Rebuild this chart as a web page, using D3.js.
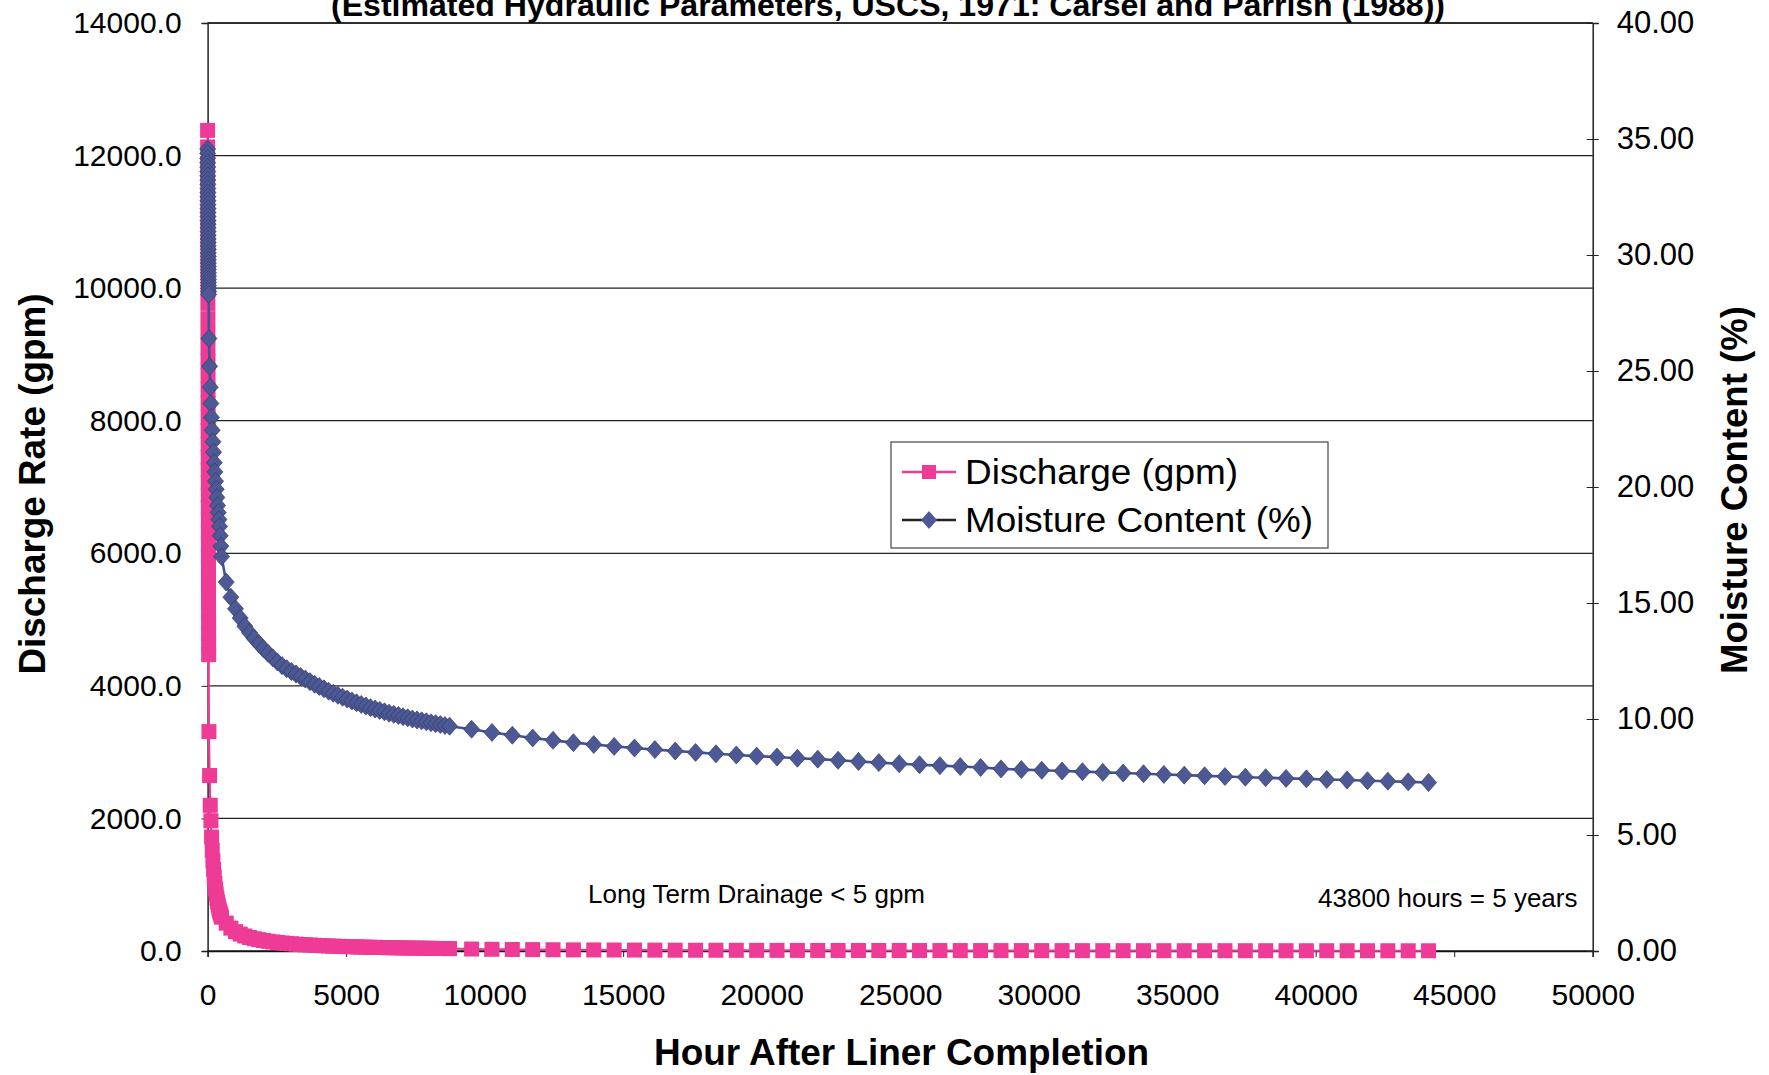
<!DOCTYPE html>
<html><head><meta charset="utf-8">
<script src="https://cdn.jsdelivr.net/npm/d3@7"></script>
<style>body{margin:0;background:#fff}svg{display:block}</style>
</head><body><svg id="c" width="1769" height="1075"></svg>
<script>
// ---------- data ----------
const hoursEarly = [0,1,2,3,4,5,6,7,8,9,10,11,12,13,14,15,16,17,18,19,20,21,22,23,24,25,26,27,28,29,30,31,32,33,34,35,36,37,38,39];
const dischargeEarly = [12380,12130,11880,11640,11390,11150,10920,10680,10450,10220,9990,9770,9540,9320,9100,8890,8680,8470,8260,8050,7850,7650,7450,7260,7060,6870,6690,6500,6320,6140,5960,5790,5610,5440,5270,5110,4950,4790,4630,4470];
const moistureEarly = [34.57,34.37,34.17,33.98,33.79,33.60,33.41,33.23,33.05,32.87,32.69,32.51,32.34,32.17,32.00,31.83,31.66,31.49,31.33,31.17,31.01,30.85,30.69,30.54,30.39,30.24,30.09,29.94,29.79,29.65,29.51,29.37,29.23,29.09,28.95,28.82,28.69,28.56,28.43,28.30];

const hoursDaily = [48,72,96,120,144,168,192,216,240,264,288,312,336,360,384,408,432,456,480,504];
const dischargeDaily = [3310,2647,2198,1965,1720,1520,1360,1230,1120,1020,935,860,795,740,690,645,605,570,540,510];
const moistureDaily = [26.4,25.2,24.3,23.6,23.0,22.45,21.95,21.5,21.05,20.65,20.25,19.9,19.55,19.2,18.9,18.6,18.3,17.9,17.45,17.0];

const hoursWeekly = [672,840,1008,1176,1344,1512,1680,1848,2016,2184,2352,2520,2688,2856,3024,3192,3360,3528,3696,3864,4032,4200,4368,4536,4704,4872,5040,5208,5376,5544,5712,5880,6048,6216,6384,6552,6720,6888,7056,7224,7392,7560,7728,7896,8064,8232,8400,8568,8736];
const dischargeWeekly = [420,345,292,255,226,204,186,171,158,147,137,129,121,115,109,103,98,94,90,86,82,79,76,73,70,68,66,64,62,60,58,56,55,53,52,50,49,48,46,45,44,43,42,41,40,39,38,37,36];
const moistureWeekly = [15.9,15.25,14.75,14.35,14.0,13.72,13.47,13.25,13.03,12.83,12.64,12.46,12.3,12.17,12.05,11.94,11.83,11.72,11.61,11.5,11.4,11.3,11.2,11.11,11.02,10.94,10.86,10.78,10.7,10.63,10.56,10.49,10.43,10.37,10.31,10.25,10.2,10.15,10.1,10.05,10.0,9.96,9.92,9.88,9.84,9.8,9.76,9.72,9.69];

const hoursMonthly = [9530,10265,11000,11735,12470,13205,13940,14675,15410,16145,16880,17615,18350,19085,19820,20555,21290,22025,22760,23495,24230,24965,25700,26435,27170,27905,28640,29375,30110,30845,31580,32315,33050,33785,34520,35255,35990,36725,37460,38195,38930,39665,40400,41135,41870,42605,43340,44075];
const dischargeMonthly = [30,26,23,21,19,17,16,15,14,13,12,11.5,11,10.5,10,9.5,9,8.6,8.2,7.9,7.6,7.3,7.0,6.8,6.6,6.4,6.2,6.0,5.8,5.6,5.5,5.3,5.2,5.0,4.9,4.8,4.7,4.6,4.5,4.4,4.3,4.2,4.1,4.0,3.9,3.8,3.7,3.6];
const moistureMonthly = [9.56,9.42,9.30,9.18,9.08,8.98,8.90,8.82,8.75,8.68,8.62,8.56,8.50,8.45,8.40,8.36,8.31,8.27,8.22,8.17,8.12,8.07,8.03,7.99,7.95,7.91,7.85,7.82,7.79,7.76,7.73,7.70,7.67,7.64,7.61,7.58,7.55,7.52,7.49,7.47,7.44,7.42,7.39,7.37,7.34,7.32,7.29,7.26];

const xTicks = [0,5000,10000,15000,20000,25000,30000,35000,40000,45000,50000];
const leftTicks = [0,2000,4000,6000,8000,10000,12000,14000];
const rightTicks = [0,5,10,15,20,25,30,35,40];

const titleText = "(Estimated Hydraulic Parameters, USCS, 1971: Carsel and Parrish (1988))";
const xTitle = "Hour After Liner Completion";
const yLeftTitle = "Discharge Rate (gpm)";
const yRightTitle = "Moisture Content (%)";
const seriesNames = ["Discharge (gpm)", "Moisture Content (%)"];
const notes = ["Long Term Drainage < 5 gpm", "43800 hours = 5 years"];

// ---------- build ----------
const hours = [].concat(hoursEarly, hoursDaily, hoursWeekly, hoursMonthly);
const discharge = [].concat(dischargeEarly, dischargeDaily, dischargeWeekly, dischargeMonthly);
const moisture = [].concat(moistureEarly, moistureDaily, moistureWeekly, moistureMonthly);
const dData = hours.map((h,i)=>({h, v:discharge[i]}));
const mData = hours.map((h,i)=>({h, v:moisture[i]}));

const FONT = "'Liberation Sans', Arial, Helvetica, sans-serif";
const PINK = "#ee3b96", BLUE = "#4d5994", BLUELINE = "#3f5593";
const L = 207.6, R = 1592.7, T = 23, B = 951;
const SQ = 15;

const svg = d3.select("#c");
svg.append("rect").attr("width",1769).attr("height",1075).attr("fill","#fff");

const x = d3.scaleLinear().domain([0,50000]).range([L,R]);
const yL = d3.scaleLinear().domain([0,14000]).range([B,T]);
const yR = d3.scaleLinear().domain([0,40]).range([B,T]);

// gridlines
svg.append("g").selectAll("line").data(leftTicks).join("line")
  .attr("x1",L).attr("x2",R).attr("y1",d=>yL(d)).attr("y2",d=>yL(d))
  .attr("stroke","#222").attr("stroke-width",1.3);

// axes
const gx = svg.append("g").attr("transform",`translate(0,${B})`)
  .call(d3.axisBottom(x).tickValues(xTicks).tickFormat(d3.format("d")).tickSize(6).tickPadding(27));
const gl = svg.append("g").attr("transform",`translate(${L},0)`)
  .call(d3.axisLeft(yL).tickValues(leftTicks).tickFormat(d3.format(".1f")).tickSize(6).tickPadding(20));
const gr = svg.append("g").attr("transform",`translate(${R},0)`)
  .call(d3.axisRight(yR).tickValues(rightTicks).tickFormat(d3.format(".2f")).tickSize(6).tickPadding(18));
[gx,gl,gr].forEach(g=>{
  g.select(".domain").attr("stroke","#111").attr("stroke-width",1.4);
  g.selectAll(".tick line").attr("stroke","#222").attr("stroke-width",1);
  g.selectAll(".tick text").attr("font-family",FONT).attr("font-size",30).attr("fill","#000");
});
gr.selectAll(".tick text").attr("font-size",31);
gr.selectAll(".tick line").attr("x1",-6);

// series: discharge
const lineD = d3.line().x(d=>x(d.h)).y(d=>yL(d.v));
svg.append("path").datum(dData).attr("d",lineD).attr("fill","none").attr("stroke",PINK).attr("stroke-width",2.2);
svg.append("g").selectAll("rect").data(dData).join("rect")
  .attr("x",d=>x(d.h)-SQ/2).attr("y",d=>yL(d.v)-SQ/2).attr("width",SQ).attr("height",SQ).attr("fill",PINK);

// series: moisture
const lineM = d3.line().x(d=>x(d.h)).y(d=>yR(d.v));
svg.append("path").datum(mData).attr("d",lineM).attr("fill","none").attr("stroke",BLUELINE).attr("stroke-width",2.6);
const dia = "M0,-9L8,0L0,9L-8,0Z";
svg.append("g").selectAll("path").data(mData).join("path")
  .attr("d",dia).attr("transform",d=>`translate(${x(d.h)},${yR(d.v)})`)
  .attr("fill",BLUE).attr("stroke","#323a66").attr("stroke-width",0.7);

// frame top line
svg.append("line").attr("x1",L).attr("x2",R).attr("y1",T).attr("y2",T).attr("stroke","#222").attr("stroke-width",1.4);

// title (clipped at top, as in the original)
svg.append("text").attr("x",888).attr("y",16).attr("text-anchor","middle")
  .attr("font-family",FONT).attr("font-weight","bold").attr("font-size",32)
  .attr("textLength",1114).attr("lengthAdjust","spacingAndGlyphs").text(titleText);

// axis titles
svg.append("text").attr("x",901.5).attr("y",1065).attr("text-anchor","middle")
  .attr("font-family",FONT).attr("font-weight","bold").attr("font-size",37)
  .attr("textLength",495).attr("lengthAdjust","spacingAndGlyphs").text(xTitle);
svg.append("text").attr("transform","translate(45,484) rotate(-90)").attr("text-anchor","middle")
  .attr("font-family",FONT).attr("font-weight","bold").attr("font-size",37)
  .attr("textLength",381).attr("lengthAdjust","spacingAndGlyphs").text(yLeftTitle);
svg.append("text").attr("transform","translate(1747,490) rotate(-90)").attr("text-anchor","middle")
  .attr("font-family",FONT).attr("font-weight","bold").attr("font-size",37)
  .attr("textLength",368).attr("lengthAdjust","spacingAndGlyphs").text(yRightTitle);

// annotations
svg.append("text").attr("x",588).attr("y",903).attr("font-family",FONT).attr("font-size",26).text(notes[0]);
svg.append("text").attr("x",1318).attr("y",907).attr("font-family",FONT).attr("font-size",26).text(notes[1]);

// legend
const lg = svg.append("g");
lg.append("rect").attr("x",891).attr("y",442).attr("width",437).attr("height",106)
  .attr("fill","#fff").attr("stroke","#444").attr("stroke-width",1.2);
lg.append("line").attr("x1",902).attr("x2",956).attr("y1",472).attr("y2",472).attr("stroke",PINK).attr("stroke-width",2.5);
lg.append("rect").attr("x",929-7).attr("y",472-7).attr("width",14).attr("height",14).attr("fill",PINK);
lg.append("line").attr("x1",902).attr("x2",956).attr("y1",520).attr("y2",520).attr("stroke","#222").attr("stroke-width",2.5);
lg.append("path").attr("d",dia).attr("transform","translate(929,520)").attr("fill",BLUE);
lg.selectAll("text.lt").data(seriesNames).join("text").attr("class","lt")
  .attr("x",965).attr("y",(d,i)=>484+i*48).attr("font-family",FONT).attr("font-size",35)
  .attr("textLength",(d,i)=>i===0?273:348).attr("lengthAdjust","spacingAndGlyphs").text(d=>d);
</script>
</body></html>
